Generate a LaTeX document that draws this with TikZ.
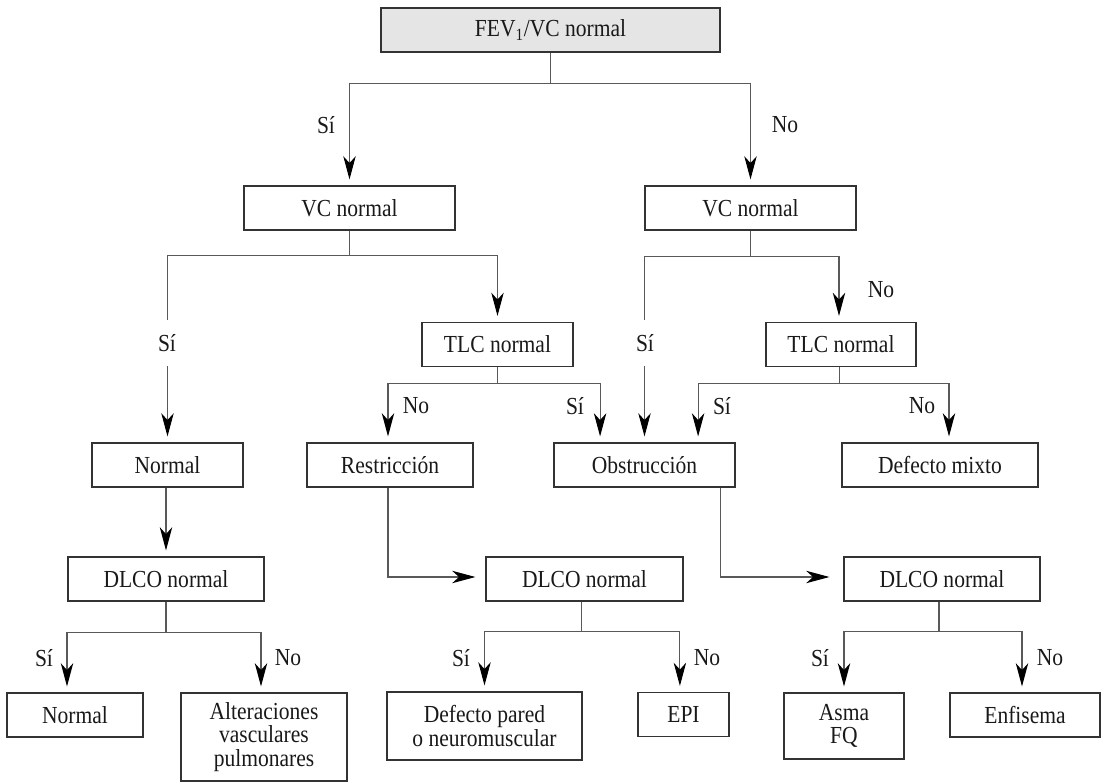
\documentclass[tikz,border=0pt]{standalone}
\usepackage{fontspec}
\setmainfont[FakeStretch=0.88]{Liberation Serif}
\usepackage{tikz}
\usetikzlibrary{arrows.meta}

\begin{document}
\begin{tikzpicture}[
			x=0.025cm, y=-0.025cm,
			font=\rmfamily\fontsize{17.4}{16.5}\selectfont,
			box/.style={
				rectangle,
				draw=black!80,
				line width=0.8pt,
				fill=white,
				inner sep=0pt,
				minimum height=1.1cm,
				align=center,
				text=black!90
			},
			rootbox/.style={
				box,
				fill=black!10
			},
			lbl/.style={
				inner sep=1pt,
				text=black!90
			},
			cutlbl/.style={
				lbl,
				fill=white,
				minimum height=1.15cm
			},
			link/.style={line width=0.75pt,draw=black!65},
			arrow/.style={link,-{Stealth[length=0.58cm,width=0.31cm,inset=0.17cm,black]},shorten >=0.15cm}
			]
			\useasboundingbox (0,0) rectangle (1107,783);
			% decision boxes
			\node[rootbox, minimum width=8.475cm] (fev) at (550.5,30) {FEV\textsubscript{1}/VC normal};
			\node[box, minimum width=5.275cm] (vcL) at (349.5,208) {VC normal};
			\node[box, minimum width=5.275cm] (vcR) at (750.5,208) {VC normal};
			\node[box, minimum width=3.775cm] (tlcL) at (497.5,344.5) {TLC normal};
			\node[box, minimum width=3.75cm] (tlcR) at (841,344.5) {TLC normal};
			\node[box, minimum width=3.775cm] (normA) at (167.5,465) {Normal};
			\node[box, minimum width=4.15cm] (restr) at (390,465) {Restricción};
			\node[box, minimum width=4.525cm] (obstr) at (644.5,465) {Obstrucción};
			\node[box, minimum width=4.9cm] (mixto) at (940,465) {Defecto mixto};
			\node[box, minimum width=4.9cm] (dlcoL) at (166,579) {DLCO normal};
			\node[box, minimum width=4.925cm] (dlcoM) at (584.5,579) {DLCO normal};
			\node[box, minimum width=4.9cm] (dlcoR) at (942,579) {DLCO normal};
			% results
			\node[box, minimum width=3.4cm] (normB) at (75,715) {Normal};
			\node[box, minimum width=4.15cm, minimum height=2.2cm] (alter) at (264,737) {Alteraciones\\vasculares\\pulmonares};
			\node[box, minimum width=4.875cm, minimum height=1.7cm] (pared) at (484.5,726) {Defecto pared\\o neuromuscular};
			\node[box, minimum width=2.275cm] (epi) at (683.5,714.5) {EPI};
			\node[box, minimum width=3cm, minimum height=1.65cm] (asma) at (844,726) {Asma\\FQ};
			\node[box, minimum width=3.75cm] (enfis) at (1025,715) {Enfisema};

			\draw[arrow] (fev.south) -- ++(0,31) -| (vcL.north);
			\draw[arrow] (fev.south) -- ++(0,31) -| (vcR.north);
			\draw[arrow] (vcL.south) -- ++(0,25) -| (normA.north);
			\draw[arrow] (vcL.south) -- ++(0,25) -| (tlcL.north);
			\draw[arrow] (vcR.south) -- ++(0,26) -| (obstr.north);
			\draw[arrow] (vcR.south) -- ++(0,26) -| ([xshift=-0.05cm]tlcR.north);
			\draw[arrow] (tlcL.south) -- ++(0,16) -| ([xshift=-0.05cm]restr.north);
			\draw[arrow] (tlcL.south) -- ++(0,16) -| ([xshift=-1.11cm]obstr.north);
			\draw[arrow] ([xshift=-0.03cm]tlcR.south) -- ++(0,16) -| ([xshift=1.34cm]obstr.north);
			\draw[arrow] ([xshift=-0.03cm]tlcR.south) -- ++(0,16) -| ([xshift=0.225cm]mixto.north);
			\draw[arrow] (normA.south -| dlcoL.north) -- (dlcoL.north);
			\draw[arrow,shorten >=0.25cm] ([xshift=-0.05cm]restr.south) |- ([yshift=0.05cm]dlcoM.west);
			\draw[arrow,shorten >=0.35cm] ([xshift=1.91cm]obstr.south) |- ([yshift=0.05cm]dlcoR.west);
			\draw[arrow] (dlcoL.south) -- ++(0,31) -| ([xshift=-0.2cm]normB.north);
			\draw[arrow] (dlcoL.south) -- ++(0,31) -| ([xshift=-0.075cm]alter.north);
			\draw[arrow] ([xshift=-0.08cm]dlcoM.south) -- ++(0,30) -| (pared.north);
			\draw[arrow] ([xshift=-0.08cm]dlcoM.south) -- ++(0,30) -| ([xshift=-0.09cm]epi.north);
			\draw[arrow] ([xshift=-0.075cm]dlcoR.south) -- ++(0,30) -| (asma.north);
			\draw[arrow] ([xshift=-0.075cm]dlcoR.south) -- ++(0,30) -| ([xshift=-0.075cm]enfis.north);

			% answers
			\node[lbl] (siFev) at (326,125) {Sí};
			\node[lbl] (noFev) at (785,125) {No};
			\node[cutlbl] (siVcL) at (167,343) {Sí};
			\node[cutlbl] (siVcR) at (645,343) {Sí};
			\node[lbl] (noVcR) at (881,290) {No};
			\node[lbl] (noTlcL) at (416,406) {No};
			\node[lbl] (siTlcL) at (575,406) {Sí};
			\node[lbl] (siTlcR) at (722,406) {Sí};
			\node[lbl] (noTlcR) at (922,406) {No};
			\node[lbl] (siDlL) at (44,658) {Sí};
			\node[lbl] (noDlL) at (288,658) {No};
			\node[lbl] (siDlM) at (461,658) {Sí};
			\node[lbl] (noDlM) at (707,658) {No};
			\node[lbl] (siDlR) at (820,658) {Sí};
			\node[lbl] (noDlR) at (1050,658) {No};
		\end{tikzpicture}
\end{document}
